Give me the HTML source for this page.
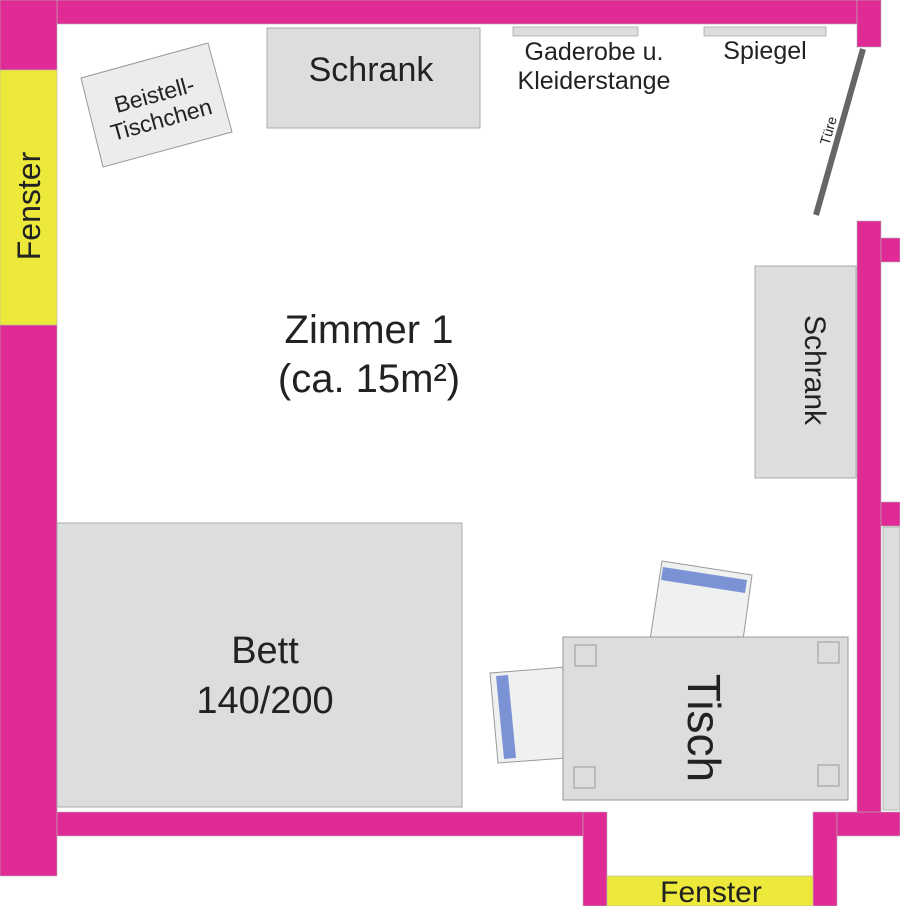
<!DOCTYPE html>
<html><head><meta charset="utf-8"><style>
html,body{margin:0;padding:0;background:#fff;}
svg{display:block;}
text{font-family:"Liberation Sans",sans-serif;fill:#222;}
</style></head><body>
<svg width="900" height="906" viewBox="0 0 900 906" xmlns="http://www.w3.org/2000/svg">
<rect width="900" height="906" fill="#fff"/>
<g fill="#e02a96" stroke="#b0b0b0" stroke-width="0.6">
<rect x="57" y="0" width="800" height="24"/>
<rect x="857" y="0" width="24" height="47"/>
<rect x="0" y="0" width="57" height="70"/>
<rect x="0" y="325" width="57" height="551"/>
<rect x="57" y="812" width="526" height="24"/>
<rect x="583" y="812" width="24" height="94"/>
<rect x="813" y="812" width="24" height="94"/>
<rect x="837" y="812" width="63" height="24"/>
<rect x="857" y="221" width="24" height="591"/>
<rect x="881" y="238" width="19" height="24"/>
<rect x="881" y="502" width="19" height="24"/>
</g>
<g fill="#ece93a" stroke="#b0b0b0" stroke-width="0.6">
<rect x="0" y="70" width="57" height="255"/>
<rect x="607" y="876" width="206" height="30"/>
</g>
<rect x="883" y="527" width="17" height="283" fill="#dcdddd" stroke="#aaa" stroke-width="0.8"/>
<g fill="#dcdddd" stroke="#aaa" stroke-width="1">
<rect x="267" y="28" width="213" height="100"/>
<rect x="755" y="266" width="101" height="212"/>
<rect x="57" y="523" width="405" height="284"/>
</g>
<rect x="513" y="27" width="125" height="9" fill="#dcdddd" stroke="#aaa" stroke-width="0.8"/>
<rect x="704" y="27" width="122" height="9" fill="#dcdddd" stroke="#aaa" stroke-width="0.8"/>
<polygon points="81,78 208,43 232,132 103,167" fill="#ececec" stroke="#999" stroke-width="1"/>
<line x1="863" y1="49" x2="816" y2="215" stroke="#666" stroke-width="6"/>
<polygon points="662,561 752,575 743,640 650,640" fill="#eff0f0" stroke="#999" stroke-width="1"/>
<polygon points="663,567 747,580 745,593 661,580" fill="#7b93d4"/>
<polygon points="490,673 566,667 566,758 498,763" fill="#eff0f0" stroke="#999" stroke-width="1"/>
<polygon points="496,676 508,675 516,758 504,759" fill="#7b93d4"/>
<rect x="563" y="637" width="285" height="163" fill="#dcdddd" stroke="#999" stroke-width="1"/>
<g fill="none" stroke="#999" stroke-width="1">
<rect x="575" y="645" width="21" height="21"/>
<rect x="818" y="642" width="21" height="21"/>
<rect x="574" y="767" width="21" height="21"/>
<rect x="818" y="765" width="21" height="21"/>
</g>
<text x="371" y="81" font-size="34" text-anchor="middle">Schrank</text>
<text x="594" y="60" font-size="25" text-anchor="middle">Gaderobe u.</text>
<text x="594" y="89" font-size="25" text-anchor="middle">Kleiderstange</text>
<text x="765" y="59" font-size="25" text-anchor="middle">Spiegel</text>
<g transform="translate(158,108) rotate(-15.4)">
<text x="0" y="-6" font-size="23" text-anchor="middle">Beistell-</text>
<text x="0" y="20" font-size="23" text-anchor="middle">Tischchen</text>
</g>
<text transform="translate(833,132) rotate(-74)" font-size="14" text-anchor="middle">Türe</text>
<text transform="translate(40,206) rotate(-90)" font-size="32" text-anchor="middle">Fenster</text>
<text x="711" y="902" font-size="30" text-anchor="middle">Fenster</text>
<text x="369" y="343" font-size="40" text-anchor="middle">Zimmer 1</text>
<text x="369" y="392" font-size="40" text-anchor="middle">(ca. 15m²)</text>
<text transform="translate(805,370) rotate(90)" font-size="30" text-anchor="middle">Schrank</text>
<text x="265" y="663" font-size="38" text-anchor="middle">Bett</text>
<text x="265" y="713" font-size="38" text-anchor="middle">140/200</text>
<text transform="translate(688,728) rotate(90)" font-size="46" text-anchor="middle">Tisch</text>
</svg>
</body></html>
